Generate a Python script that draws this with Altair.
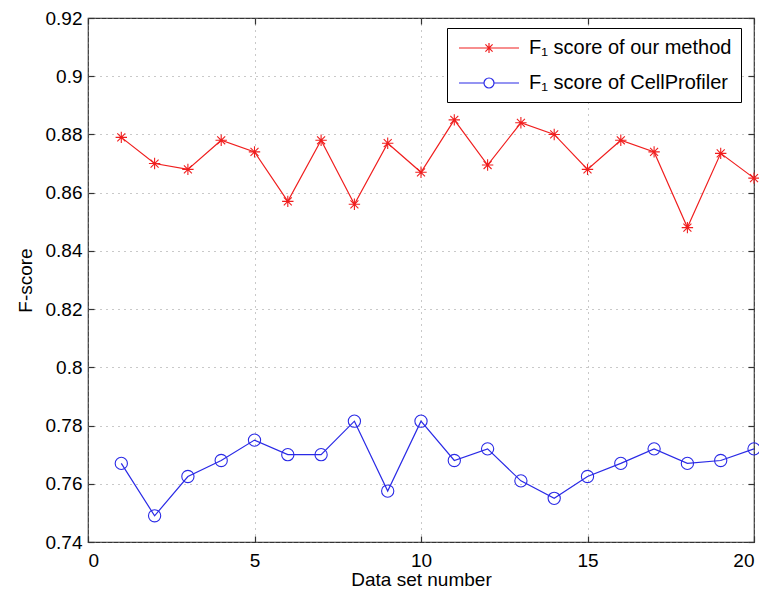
import altair as alt
import pandas as pd

# ---- data ----
dataset = list(range(1, 21))
ours = [0.879, 0.870, 0.868, 0.878, 0.874, 0.857, 0.878, 0.856, 0.877, 0.867,
        0.885, 0.8695, 0.884, 0.880, 0.868, 0.878, 0.874, 0.848, 0.8735, 0.865]
cellprofiler = [0.767, 0.749, 0.7625, 0.768, 0.775, 0.770, 0.770, 0.7815, 0.7575, 0.7815,
                0.768, 0.772, 0.761, 0.755, 0.7625, 0.767, 0.772, 0.767, 0.768, 0.772]
series_names = ["F\u2081 score of our method", "F\u2081 score of CellProfiler"]
series_colors = ["#f01e1e", "#2a2ae6"]
x_ticks = [0, 5, 10, 15, 20]
y_ticks = [0.74, 0.76, 0.78, 0.8, 0.82, 0.84, 0.86, 0.88, 0.9, 0.92]

rows = []
for d, v in zip(dataset, ours):
    rows.append({"dataset": d, "score": v, "series": series_names[0]})
for d, v in zip(dataset, cellprofiler):
    rows.append({"dataset": d, "score": v, "series": series_names[1]})
df = pd.DataFrame(rows)

W, H = 666, 524
FONT = "Liberation Sans"
STAR = "M-1,0L1,0M0,-1L0,1M-0.7,-0.7L0.7,0.7M-0.7,0.7L0.7,-0.7"
LEG_STAR = "M-3,0L3,0M0,-0.5L0,0.5M-0.36,-0.36L0.36,0.36M-0.36,0.36L0.36,-0.36"
LEG_CIRC = "M-3,0L-0.5,0M0.5,0L3,0M0.5,0A0.5,0.5 0 1 1 -0.5,0A0.5,0.5 0 1 1 0.5,0"

color_scale = alt.Scale(domain=series_names, range=series_colors)
x_scale = alt.Scale(domain=[0, 20], nice=False, zero=False)
y_scale = alt.Scale(domain=[0.74, 0.92], nice=False, zero=False)

x_enc = alt.X("dataset:Q", scale=x_scale,
              axis=alt.Axis(values=x_ticks, title="Data set number", format="d",
                            grid=True, ticks=False, domain=False,
                            labelPadding=9, titlePadding=0, titleFontSize=19))
y_enc = alt.Y("score:Q", scale=y_scale,
              axis=alt.Axis(values=y_ticks, title="F-score", format="~g",
                            grid=True, ticks=False, domain=False,
                            labelPadding=6, titlePadding=10))

legend_expr = ("datum.value === '" + series_names[0] + "' ? '" + LEG_STAR +
               "' : '" + LEG_CIRC + "'")

lines = alt.Chart(df).mark_line(strokeWidth=1.2).encode(
    x=x_enc, y=y_enc,
    color=alt.Color("series:N", scale=color_scale, sort=series_names,
                    legend=alt.Legend(title=None, orient="none", legendX=359, legendY=10,
                                      symbolType={"expr": legend_expr},
                                      symbolSize=400, symbolStrokeWidth=1.2,
                                      symbolFillColor="transparent",
                                      symbolOffset=22, labelOffset=29,
                                      labelFont=FONT, labelFontSize=20,
                                      labelColor="black", labelLimit=400,
                                      rowPadding=14, padding=9,
                                      strokeColor="black", fillColor="white")),
)

stars = alt.Chart(df).transform_filter(
    alt.datum.series == series_names[0]
).mark_point(filled=False, strokeWidth=1.1, size=130, opacity=1,
             shape=STAR, color=series_colors[0]).encode(x=x_enc, y=y_enc)

circles = alt.Chart(df).transform_filter(
    alt.datum.series == series_names[1]
).mark_point(filled=False, strokeWidth=1.1, size=150, opacity=1,
             shape="circle", color=series_colors[1]).encode(x=x_enc, y=y_enc)

main = alt.layer(lines, stars, circles)


def tick_layer(x_orient, y_orient):
    common = dict(labels=False, title=None, grid=False, domain=False, ticks=True,
                  tickSize=6, tickColor="#333333", tickWidth=1.2)
    return alt.Chart(df).mark_point(opacity=0).encode(
        x=alt.X("dataset:Q", scale=x_scale,
                axis=alt.Axis(values=x_ticks, orient=x_orient, offset=-H, **common)),
        y=alt.Y("score:Q", scale=y_scale,
                axis=alt.Axis(values=y_ticks, orient=y_orient, offset=-W, **common)),
    )


ticks_a = tick_layer("top", "right")    # inward ticks on bottom and left edges
ticks_b = tick_layer("bottom", "left")  # inward ticks on top and right edges

chart = alt.layer(main, ticks_a, ticks_b).resolve_scale(
    x="independent", y="independent"
).resolve_axis(
    x="independent", y="independent"
).properties(
    width=W, height=H,
    autosize=alt.AutoSizeParams(type="none"),
    padding={"left": 80, "top": 10, "right": 5, "bottom": 49},
    background="white",
).configure_view(
    stroke="#333333", strokeWidth=1.2
).configure_axis(
    labelFont=FONT, titleFont=FONT, labelFontSize=19, titleFontSize=19,
    labelColor="black", titleColor="black", titleFontWeight="normal",
    gridColor="#888888", gridDash=[1, 5], gridWidth=1, gridOpacity=0.9,
)

chart.save("out.html", embed_options={"renderer": "svg", "actions": False})
